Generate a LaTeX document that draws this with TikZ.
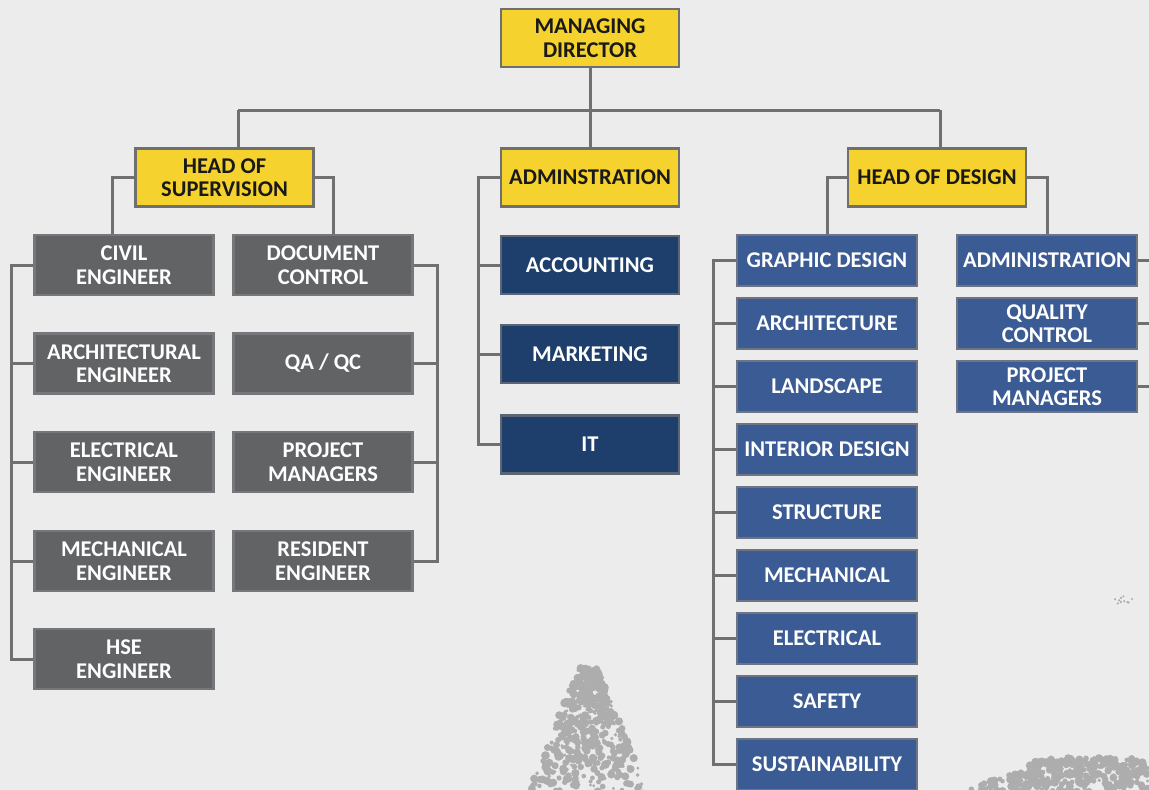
\documentclass[tikz,border=0pt]{standalone}
\usepackage{fontspec}
\setmainfont{Carlito}
\definecolor{bgc}{HTML}{ECECEC}
\definecolor{yel}{HTML}{F5D22E}
\definecolor{bordc}{HTML}{6F6F6F}
\definecolor{greyf}{HTML}{626365}
\definecolor{greyb}{HTML}{76777A}
\definecolor{navy}{HTML}{1E3F6B}
\definecolor{navyb}{HTML}{5C6673}
\definecolor{dblue}{HTML}{3B5B94}
\definecolor{dblueb}{HTML}{6E7482}
\definecolor{linec}{HTML}{707070}
\definecolor{treec}{HTML}{ADADAD}
\begin{document}
\begin{tikzpicture}[x=1pt,y=-1pt,
  box/.style={rectangle, line width=2.5pt, align=center, inner sep=0pt,
    font=\bfseries\fontsize{22.5}{23.5}\selectfont},
  ybox/.style={box, draw=bordc, fill=yel, text=black!90, minimum width=178pt, minimum height=58pt},
  gbox/.style={box, draw=greyb, fill=greyf, text=white, minimum width=179pt, minimum height=60pt},
  nbox/.style={box, draw=navyb, fill=navy, text=white, minimum width=178pt, minimum height=58pt},
  dbox/.style={box, draw=dblueb, fill=dblue, text=white, minimum width=180pt, minimum height=51pt},
  conn/.style={draw=linec, line width=3pt},
  tree/.style={fill=treec}]
\useasboundingbox (0,0) rectangle (1149,790);
\fill[bgc] (0,0) rectangle (1149,790);

% background trees (textured silhouettes)
\pgfmathsetseed{7}
\foreach \i in {1,...,450} {
  \pgfmathsetmacro{\ty}{668+124*rnd}
  \pgfmathsetmacro{\hw}{10+(\ty-668)*0.4}
  \pgfmathsetmacro{\tx}{588+\hw*(2*rnd-1)}
  \pgfmathsetmacro{\tr}{1.5+3*rnd}
  \fill[tree] (\tx,\ty) circle (\tr);
}
\foreach \i in {1,...,380} {
  \pgfmathsetmacro{\ty}{758+34*rnd}
  \pgfmathsetmacro{\hw}{45+(\ty-758)*2.4}
  \pgfmathsetmacro{\tx}{1090+\hw*(2*rnd-1)}
  \pgfmathsetmacro{\tr}{1.5+3*rnd}
  \fill[tree] (\tx,\ty) circle (\tr);
}
\foreach \i in {1,...,10} {
  \pgfmathsetmacro{\tx}{1112+26*rnd}
  \pgfmathsetmacro{\ty}{594+10*rnd}
  \fill[tree] (\tx,\ty) circle (1.2);
}

% top level
\node[ybox] (md) at (590,38) {MANAGING\\DIRECTOR};
\node[ybox] (hos) at (224.5,177.5) {HEAD OF\\SUPERVISION};
\node[ybox] (adm) at (590,177.5) {ADMINSTRATION};
\node[ybox] (hod) at (937,177.5) {HEAD OF DESIGN};

% supervision
\node[gbox] (civ)  at (124,265)   {CIVIL\\ENGINEER};
\node[gbox] (arc)  at (124,363.5) {ARCHITECTURAL\\ENGINEER};
\node[gbox] (ele)  at (124,462)   {ELECTRICAL\\ENGINEER};
\node[gbox] (mec)  at (124,561)   {MECHANICAL\\ENGINEER};
\node[gbox] (hse)  at (124,659)   {HSE\\ENGINEER};
\node[gbox] (doc)  at (323,265)   {DOCUMENT\\CONTROL};
\node[gbox] (qaqc) at (323,363.5) {QA / QC};
\node[gbox] (pms)  at (323,462)   {PROJECT\\MANAGERS};
\node[gbox] (res)  at (323,561)   {RESIDENT\\ENGINEER};

% administration
\node[nbox] (acc) at (590,265)   {ACCOUNTING};
\node[nbox] (mkt) at (590,354)   {MARKETING};
\node[nbox] (it)  at (590,444.5) {IT};

% design
\node[dbox] (gd)  at (827,260.5) {GRAPHIC DESIGN};
\node[dbox] (ar)  at (827,323.5) {ARCHITECTURE};
\node[dbox] (ls)  at (827,386.5) {LANDSCAPE};
\node[dbox] (id)  at (827,449.5) {INTERIOR DESIGN};
\node[dbox] (st)  at (827,512.5) {STRUCTURE};
\node[dbox] (me)  at (827,575.5) {MECHANICAL};
\node[dbox] (el)  at (827,638.5) {ELECTRICAL};
\node[dbox] (sa)  at (827,701.5) {SAFETY};
\node[dbox] (su)  at (827,764.5) {SUSTAINABILITY};
\node[dbox] (ad2) at (1047,260.5) {ADMINISTRATION};
\node[dbox] (qc)  at (1047,323.5) {QUALITY\\CONTROL};
\node[dbox] (pm2) at (1047,386.5) {PROJECT\\MANAGERS};

% connector coordinates
\coordinate (busL) at (238,110);
\coordinate (busR) at (940,110);
\coordinate (sL) at (112,0);
\coordinate (sR) at (333,0);
\coordinate (lb) at (11,0);
\coordinate (rb) at (437,0);
\coordinate (ab) at (478,0);
\coordinate (db) at (713,0);
\coordinate (edge) at (1149,0);

\draw[conn] (md.south) -- (adm.north);
\draw[conn] (busL) -- (busR);
\draw[conn] (busL) -- (busL |- hos.north);
\draw[conn] (busR) -- (busR |- hod.north);

\draw[conn] (hos.west) -| (sL |- civ.north);
\draw[conn] (hos.east) -| (sR |- doc.north);
\draw[conn] (civ.west) -- (lb |- civ.west) |- (hse.west);
\foreach \n in {arc,ele,mec} \draw[conn] (\n.west) -- (lb |- \n.west);
\draw[conn] (doc.east) -- (rb |- doc.east) |- (res.east);
\foreach \n in {qaqc,pms} \draw[conn] (\n.east) -- (rb |- \n.east);

\draw[conn] (adm.west) -- (ab |- adm.west) |- (it.west);
\foreach \n in {acc,mkt} \draw[conn] (\n.west) -- (ab |- \n.west);

\draw[conn] (hod.west) -| (gd.north);
\draw[conn] (hod.east) -| (ad2.north);
\draw[conn] (gd.west) -- (db |- gd.west) |- (su.west);
\foreach \n in {ar,ls,id,st,me,el,sa} \draw[conn] (\n.west) -- (db |- \n.west);
\foreach \n in {ad2,qc,pm2} \draw[conn] (\n.east) -- (edge |- \n.east);
\end{tikzpicture}
\end{document}
